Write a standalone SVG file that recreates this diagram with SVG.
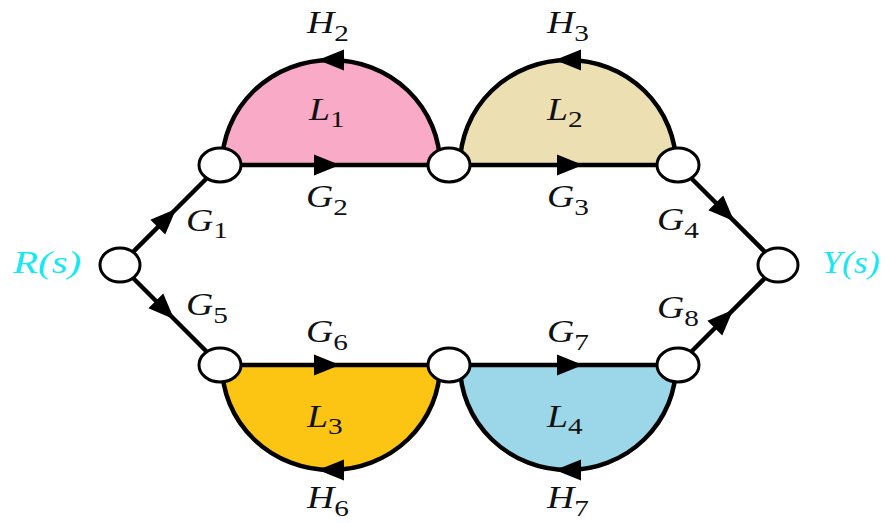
<svg xmlns="http://www.w3.org/2000/svg" width="886" height="523" viewBox="0 0 886 523">
<style>
.ln{fill:none;stroke:#000;stroke-width:4.5;marker-mid:url(#ah)}
.nd{fill:#fff;stroke:#000;stroke-width:3}
.lb{font-family:"Liberation Serif","Times New Roman",serif;font-style:italic;font-size:31px;fill:#111}
.sb{font-style:normal;font-size:24px}
.io{font-family:"Liberation Serif","Times New Roman",serif;font-style:italic;font-size:32px;fill:#16e8f4}
</style>
<defs>
<marker id="ah" markerUnits="userSpaceOnUse" viewBox="-20 -20 40 40" markerWidth="40" markerHeight="40" refX="0" refY="0" orient="auto">
<path d="M13,0 L-13,-10.5 L-13,10.5 Z" fill="#000"/>
</marker>
</defs>
<g id="loop-fills">
<path d="M222,165 A109,105 0 0 1 440,165 Z" fill="#f8aac6"/>
<path d="M460,165 A108,105 0 0 1 676,165 Z" fill="#ece0b3"/>
<path d="M222,365 A109,105 0 0 0 440,365 Z" fill="#fcc513"/>
<path d="M460,365 A108,105 0 0 0 676,365 Z" fill="#9bd7e8"/>
</g>
<g id="connectors">
<path class="ln" d="M120,265 L167,218 L220,165"/>
<path class="ln" d="M220,165 L327,165 L449,165"/>
<path class="ln" d="M449,165 L570,165 L678,165"/>
<path class="ln" d="M678,165 L725,212 L778,265"/>
<path class="ln" d="M120,265 L165,310 L220,365"/>
<path class="ln" d="M220,365 L327,365 L449,365"/>
<path class="ln" d="M449,365 L570,365 L678,365"/>
<path class="ln" d="M678,365 L724,319 L778,265"/>
<path class="ln" d="M440,165 A109,105 0 0 0 331,60 A109,105 0 0 0 222,165"/>
<path class="ln" d="M676,165 A108,105 0 0 0 568,60 A108,105 0 0 0 460,165"/>
<path class="ln" d="M440,365 A109,105 0 0 1 331,470 A109,105 0 0 1 222,365"/>
<path class="ln" d="M676,365 A108,105 0 0 1 568,470 A108,105 0 0 1 460,365"/>
</g>
<g id="n-R"><ellipse class="nd" cx="120" cy="265" rx="20" ry="17"/><text class="io" transform="translate(13,273) scale(1.28,1)">R(s)</text></g>
<g id="n-Y"><ellipse class="nd" cx="778" cy="265" rx="20" ry="17"/><text class="io" transform="translate(822,273) scale(1.12,1)">Y(s)</text></g>
<g id="n-1"><ellipse class="nd" cx="220" cy="165" rx="21" ry="17"/></g>
<g id="n-2"><ellipse class="nd" cx="449" cy="165" rx="21" ry="17"/></g>
<g id="n-3"><ellipse class="nd" cx="678" cy="165" rx="21" ry="17"/></g>
<g id="n-4"><ellipse class="nd" cx="220" cy="365" rx="21" ry="17"/></g>
<g id="n-5"><ellipse class="nd" cx="449" cy="365" rx="21" ry="17"/></g>
<g id="n-6"><ellipse class="nd" cx="678" cy="365" rx="21" ry="17"/></g>
<g id="labels">
<text class="lb" transform="translate(307,33) scale(1.22,1)">H<tspan class="sb" dy="8">2</tspan></text>
<text class="lb" transform="translate(309,120) scale(1.22,1)">L<tspan class="sb" dy="7">1</tspan></text>
<text class="lb" transform="translate(306,207) scale(1.22,1)">G<tspan class="sb" dy="8">2</tspan></text>
<text class="lb" transform="translate(186,231) scale(1.22,1)">G<tspan class="sb" dy="7">1</tspan></text>
<text class="lb" transform="translate(547,33) scale(1.22,1)">H<tspan class="sb" dy="8">3</tspan></text>
<text class="lb" transform="translate(547,120) scale(1.22,1)">L<tspan class="sb" dy="7">2</tspan></text>
<text class="lb" transform="translate(547,207) scale(1.22,1)">G<tspan class="sb" dy="8">3</tspan></text>
<text class="lb" transform="translate(657,230) scale(1.22,1)">G<tspan class="sb" dy="8">4</tspan></text>
<text class="lb" transform="translate(186,315) scale(1.22,1)">G<tspan class="sb" dy="8">5</tspan></text>
<text class="lb" transform="translate(306,342) scale(1.22,1)">G<tspan class="sb" dy="8">6</tspan></text>
<text class="lb" transform="translate(547,342) scale(1.22,1)">G<tspan class="sb" dy="8">7</tspan></text>
<text class="lb" transform="translate(657,318) scale(1.22,1)">G<tspan class="sb" dy="8">8</tspan></text>
<text class="lb" transform="translate(307,427) scale(1.22,1)">L<tspan class="sb" dy="7">3</tspan></text>
<text class="lb" transform="translate(547,427) scale(1.22,1)">L<tspan class="sb" dy="7">4</tspan></text>
<text class="lb" transform="translate(307,508) scale(1.22,1)">H<tspan class="sb" dy="8">6</tspan></text>
<text class="lb" transform="translate(547,508) scale(1.22,1)">H<tspan class="sb" dy="8">7</tspan></text>
</g>
</svg>
